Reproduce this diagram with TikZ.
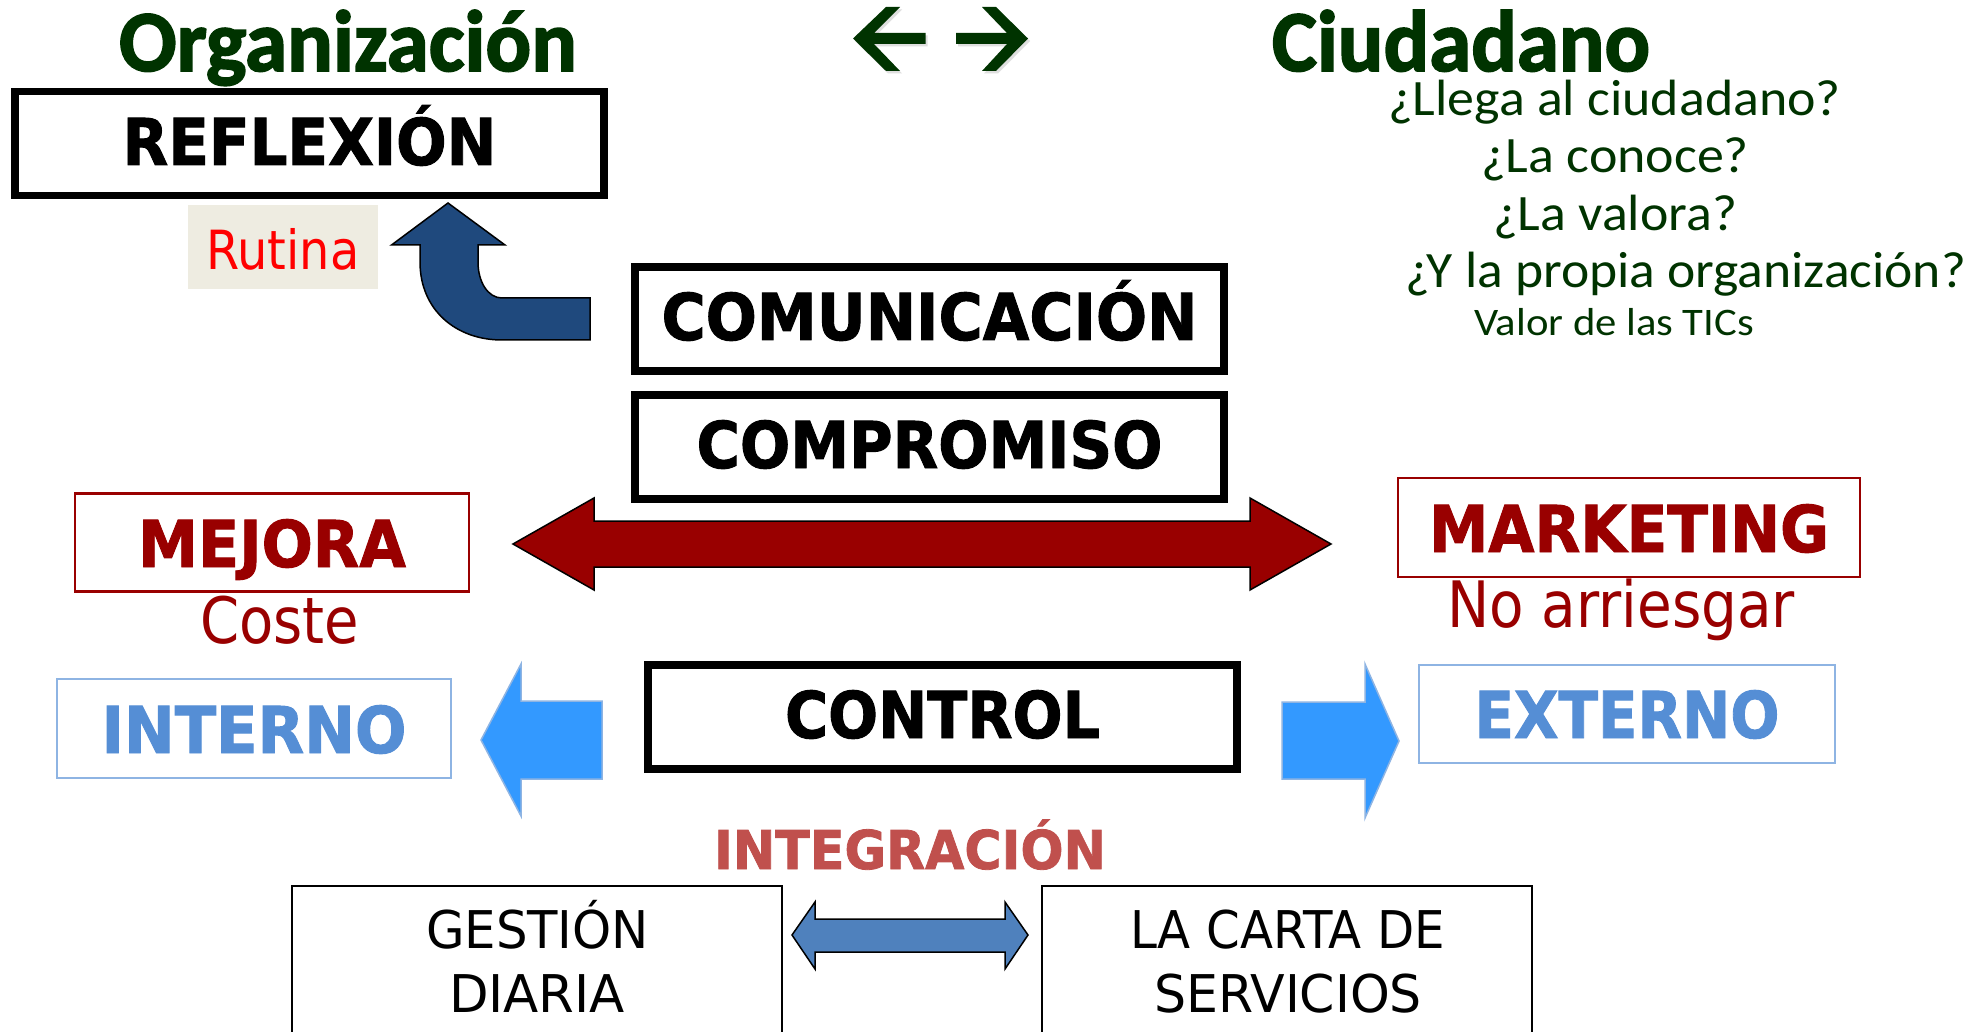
\documentclass[tikz,border=0pt]{standalone}
\usepackage{fontspec}
\usepackage{graphicx}
\usetikzlibrary{shadows}
\setmainfont{DejaVu Sans}[BoldFeatures={FakeBold=1.5}]
\newfontfamily\carl{Carlito}[BoldFeatures={FakeBold=2}]
\newcommand\ft[2]{\resizebox{#1pt}{\height}{#2}}
\definecolor{dgreen}{HTML}{003300}
\definecolor{dred}{HTML}{990000}
\definecolor{ltblue}{HTML}{558ED5}
\definecolor{ltline}{HTML}{8EB4E3}
\definecolor{arrblue}{HTML}{3399FF}
\definecolor{navy}{HTML}{1F497D}
\definecolor{midblue}{HTML}{4F81BD}
\definecolor{intred}{HTML}{C0504D}
\definecolor{rutbg}{HTML}{EEECE1}
\tikzset{
  every node/.style={inner sep=0pt,outer sep=0pt},
  capsb/.style={font=\bfseries\fontsize{64.5}{70}\selectfont},
  thickbox/.style={draw=black,line width=7.5pt,fill=white,capsb,minimum width=589pt,minimum height=104pt,text depth=0pt},
  redbox/.style={draw=dred,line width=2.2pt,fill=white,capsb,text=dred,text depth=0pt},
  bluebox/.style={draw=ltline,line width=2pt,fill=white,capsb,text=ltblue,text depth=0pt},
  thinbox/.style={draw=black,line width=1.5pt,fill=white,minimum width=490pt,minimum height=180pt},
  plain/.style={anchor=base west,font=\fontsize{52}{56}\selectfont},
  big/.style={anchor=base west,text=dred,font=\fontsize{64}{68}\selectfont},
  head/.style={anchor=base west,text=dgreen,font=\carl\bfseries\fontsize{87}{90}\selectfont},
  ask/.style={anchor=base west,text=dgreen,font=\carl\fontsize{51}{56}\selectfont},
  blockblue/.style={fill=arrblue,draw=ltline,line width=1.5pt,line join=miter},
  blockred/.style={fill=dred,draw=black,line width=1.5pt,line join=miter},
  blockmid/.style={fill=midblue,draw=black,line width=1.5pt,line join=miter},
  blocknavy/.style={fill=navy,draw=black,line width=1.5pt,line join=miter},
  greenarrow/.style={fill=dgreen,drop shadow={shadow xshift=2pt,shadow yshift=-2.5pt,opacity=.25}}
}
\begin{document}
\begin{tikzpicture}[x=1pt,y=-1pt]
\clip (0,0) rectangle (1982,1032);
\fill[white] (0,0) rectangle (1982,1032);
% headings
\node[head] (org) at (119,71) {\ft{458}{Organización}};
\node[head] (ciu) at (1272,71) {\ft{378}{Ciudadano}};
\path[greenarrow] (853,38.5) -- (886,7) -- (900,7) -- (874,33) -- (925.5,33) -- (925.5,44) -- (874,44) -- (900,71) -- (886,71) -- cycle;
\path[greenarrow] (1028,38.5) -- (996,7) -- (982,7) -- (1007,33) -- (956,33) -- (956,44) -- (1007,44) -- (982,71) -- (996,71) -- cycle;
% questions
\node[ask] (q1) at (1388,116) {\ft{453}{¿Llega al ciudadano?}};
\node[ask] (q2) at (1481,173) {\ft{268}{¿La conoce?}};
\node[ask] (q3) at (1493,231) {\ft{244}{¿La valora?}};
\node[ask] (q4) at (1405,288) {\ft{561}{¿Y la propia organización?}};
\node[ask,font=\carl\fontsize{39}{44}\selectfont] (q5) at (1474,336) {\ft{280}{Valor de las TICs}};
% thick boxes
\node[thickbox,text height=43pt] (refl) at (309.5,143.5) {\ft{374}{REFLEXIÓN}};
\node[thickbox,text height=42pt] (comu) at (929.5,319) {\ft{536}{COMUNICACIÓN}};
\node[thickbox,text height=42pt] (comp) at (929.5,447) {\ft{466}{COMPROMISO}};
\node[thickbox,text height=42pt] (ctrl) at (942.5,717) {\ft{315}{CONTROL}};
% Rutina
\node[fill=rutbg,minimum width=190pt,minimum height=84pt,text=red,font=\fontsize{54}{58}\selectfont,text height=45pt,text depth=0pt] (rut) at (283,247) {\ft{153}{Rutina}};
% curved arrow
\draw[blocknavy] (448,203) -- (505,245) -- (478,245) -- (478,262)
  .. controls (478,282) and (488,298) .. (502,298) -- (590,298) -- (590,340) -- (502,340)
  .. controls (456,340) and (420,310) .. (420,262) -- (420,245) -- (391.5,245) -- cycle;
% red double arrow
\draw[blockred] (513,544) -- (594,498) -- (594,521) -- (1250,521) -- (1250,498) -- (1331,544)
  -- (1250,590) -- (1250,567) -- (594,567) -- (594,590) -- cycle;
% Mejora / marketing
\node[redbox,minimum width=394pt,minimum height=98pt,text height=49pt] (mej) at (272,542.5) {\ft{268}{MEJORA}};
\node[big] (cos) at (200,643.5) {\ft{159}{Coste}};
\node[redbox,minimum width=462pt,minimum height=99pt,text height=49pt] (mar) at (1629,527.5) {\ft{400}{MARKETING}};
\node[big] (noa) at (1447,627) {\ft{348}{No arriesgar}};
% blue
\node[bluebox,minimum width=394pt,minimum height=99pt,text height=49pt] (int) at (254,728.5) {\ft{305}{INTERNO}};
\node[bluebox,minimum width=416.5pt,minimum height=98pt,text height=48pt] (ext) at (1627,714) {\ft{305}{EXTERNO}};
\draw[blockblue] (481,740) -- (521,664) -- (521,701) -- (602,701) -- (602,779) -- (521,779) -- (521,816) -- cycle;
\draw[blockblue] (1399,741) -- (1365,664) -- (1365,702) -- (1282,702) -- (1282,779) -- (1365,779) -- (1365,818) -- cycle;
% integracion
\node[anchor=base west,text=intred,font=\bfseries\fontsize{53.5}{58}\selectfont] (integ) at (714,869) {\ft{392}{INTEGRACIÓN}};
% bottom boxes
\node[thinbox] (gest) at (537,976) {};
\node[thinbox] (carta) at (1287,976) {};
\node[plain] (g1) at (426,948) {\ft{223}{GESTIÓN}};
\node[plain] (g2) at (449,1012) {\ft{176}{DIARIA}};
\node[plain] (c1) at (1130,948) {\ft{315}{LA CARTA DE}};
\node[plain] (c2) at (1154,1012) {\ft{268}{SERVICIOS}};
\draw[blockmid] (792,935) -- (815,902) -- (815,919) -- (1005,919) -- (1005,902) -- (1028,935)
  -- (1005,969) -- (1005,952) -- (815,952) -- (815,969) -- cycle;
\end{tikzpicture}
\end{document}
